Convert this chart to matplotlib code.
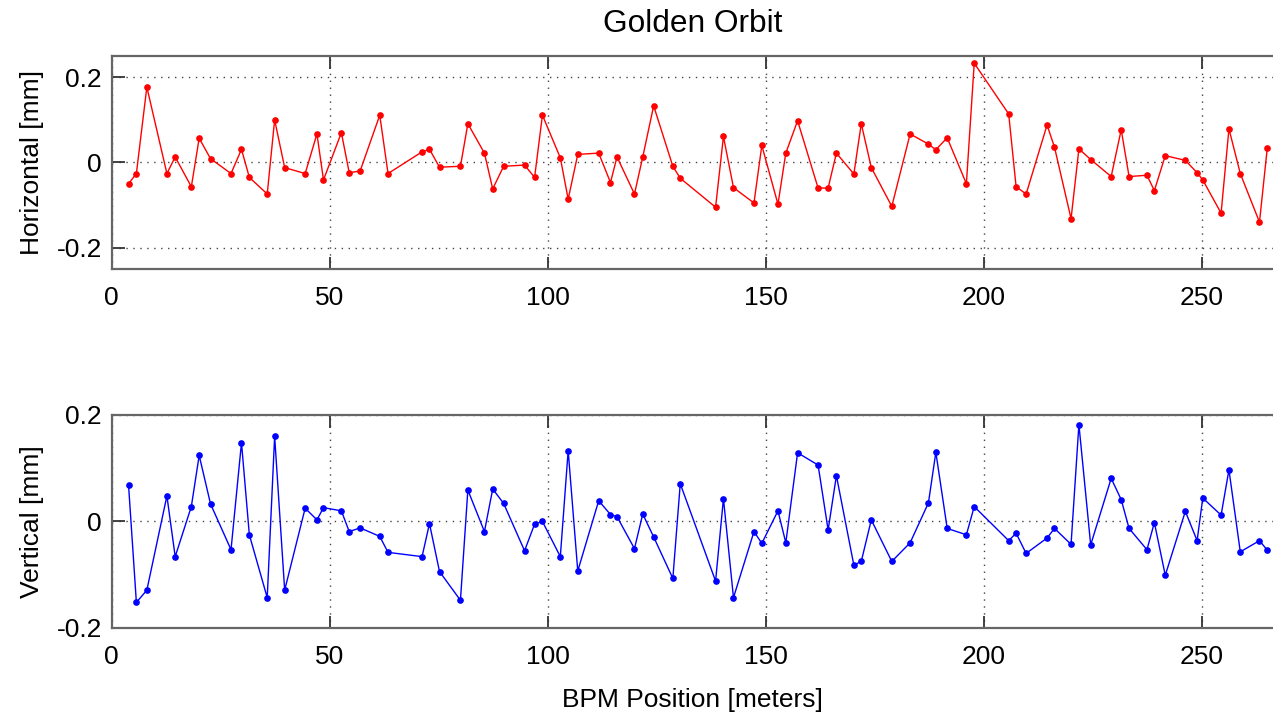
import numpy as np
import matplotlib
matplotlib.use('Agg')
from matplotlib import pyplot as plt


# BPM positions along the ring [m]
bpm_pos = [3.9, 5.7, 8.1, 12.7, 14.6, 18.3, 20.1, 22.7, 27.4, 29.8,
           31.6, 35.7, 37.4, 39.7, 44.4, 47.1, 48.6, 52.7, 54.5, 57.0,
           61.5, 63.4, 71.2, 72.9, 75.2, 80.0, 81.7, 85.5, 87.4, 89.9,
           94.7, 97.0, 98.8, 102.9, 104.7, 106.9, 111.7, 114.4, 115.9, 119.9,
           121.8, 124.3, 128.7, 130.4, 138.5, 140.3, 142.6, 147.3, 149.1, 152.8,
           154.6, 157.3, 162.0, 164.3, 166.2, 170.2, 171.9, 174.2, 178.9, 183.1,
           187.3, 189.0, 191.6, 196.0, 197.8, 205.7, 207.4, 209.7, 214.5, 216.2,
           220.0, 221.8, 224.5, 229.2, 231.5, 233.3, 237.4, 239.1, 241.6, 246.2,
           248.9, 250.2, 254.4, 256.2, 258.8, 263.2, 265.0]

# golden orbit, horizontal plane [mm]
orbit_x = [-0.050, -0.026, 0.177, -0.026, 0.013, -0.057, 0.057, 0.009, -0.026, 0.031,
           -0.035, -0.074, 0.100, -0.012, -0.026, 0.067, -0.041, 0.070, -0.024, -0.020,
           0.111, -0.026, 0.025, 0.031, -0.011, -0.009, 0.091, 0.022, -0.062, -0.009,
           -0.006, -0.035, 0.111, 0.011, -0.086, 0.019, 0.022, -0.047, 0.013, -0.074,
           0.013, 0.133, -0.009, -0.037, -0.105, 0.061, -0.059, -0.095, 0.040, -0.098,
           0.022, 0.098, -0.060, -0.060, 0.022, -0.027, 0.091, -0.012, -0.103, 0.067,
           0.043, 0.030, 0.058, -0.050, 0.233, 0.114, -0.057, -0.074, 0.088, 0.036,
           -0.132, 0.032, 0.007, -0.033, 0.077, -0.033, -0.030, -0.066, 0.016, 0.005,
           -0.024, -0.041, -0.119, 0.079, -0.026, -0.140, 0.035]

# golden orbit, vertical plane [mm]
orbit_y = [0.069, -0.152, -0.129, 0.048, -0.066, 0.028, 0.124, 0.033, -0.053, 0.148,
           -0.025, -0.143, 0.160, -0.129, 0.025, 0.003, 0.026, 0.020, -0.019, -0.012,
           -0.028, -0.058, -0.066, -0.004, -0.094, -0.148, 0.059, -0.019, 0.061, 0.034,
           -0.055, -0.005, 0.000, -0.066, 0.133, -0.093, 0.039, 0.013, 0.009, -0.051,
           0.014, -0.029, -0.107, 0.071, -0.112, 0.043, -0.143, -0.019, -0.041, 0.020,
           -0.040, 0.129, 0.106, -0.016, 0.086, -0.082, -0.075, 0.003, -0.075, -0.040,
           0.035, 0.130, -0.013, -0.025, 0.028, -0.036, -0.022, -0.060, -0.031, -0.013,
           -0.043, 0.182, -0.044, 0.081, 0.041, -0.013, -0.053, -0.002, -0.101, 0.019,
           -0.036, 0.044, 0.012, 0.097, -0.057, -0.036, -0.054]

x_ticks = [0, 50, 100, 150, 200, 250]

plt.rcParams['font.family'] = ['Liberation Sans', 'DejaVu Sans']
plt.rcParams['font.size'] = 19

spine_color = '#666666'


def style_axes(ax, ylim, yticks, ylabel):
    ax.set_xlim(0, 266.3)
    ax.set_ylim(*ylim)
    ax.set_xticks(x_ticks)
    ax.set_yticks(yticks)
    ax.set_yticklabels(['%g' % t for t in yticks])
    ax.grid(True, linestyle=(0, (1, 4)), color='#444444', linewidth=1.0)
    ax.tick_params(direction='in', length=9, width=1.3, color='#333333',
                   top=True, right=False, pad=12)
    ax.tick_params(axis='y', pad=7)
    for side in ['top', 'bottom', 'left']:
        ax.spines[side].set_color(spine_color)
        ax.spines[side].set_linewidth(1.6)
    ax.spines['right'].set_visible(False)
    ax.set_ylabel(ylabel)
    ax.yaxis.set_label_coords(-0.058, 0.5)


fig = plt.figure(figsize=(12.73, 7.15), dpi=100)
ax1 = fig.add_axes([0.0876, 0.6238, 0.9124, 0.2979])
ax2 = fig.add_axes([0.0876, 0.1217, 0.9124, 0.2979])

ax1.plot(bpm_pos, orbit_x, '-o', color='red', linewidth=1.0, markersize=3.8)
style_axes(ax1, (-0.25, 0.25), [-0.2, 0, 0.2], 'Horizontal [mm]')
ax1.set_title('Golden Orbit', pad=17.5)

ax2.plot(bpm_pos, orbit_y, '-o', color='blue', linewidth=1.0, markersize=3.8)
style_axes(ax2, (-0.2, 0.2), [-0.2, 0, 0.2], 'Vertical [mm]')
ax2.set_xlabel('BPM Position [meters]')
ax2.xaxis.set_label_coords(0.5, -0.283)

fig.savefig('out.png', dpi=100)
